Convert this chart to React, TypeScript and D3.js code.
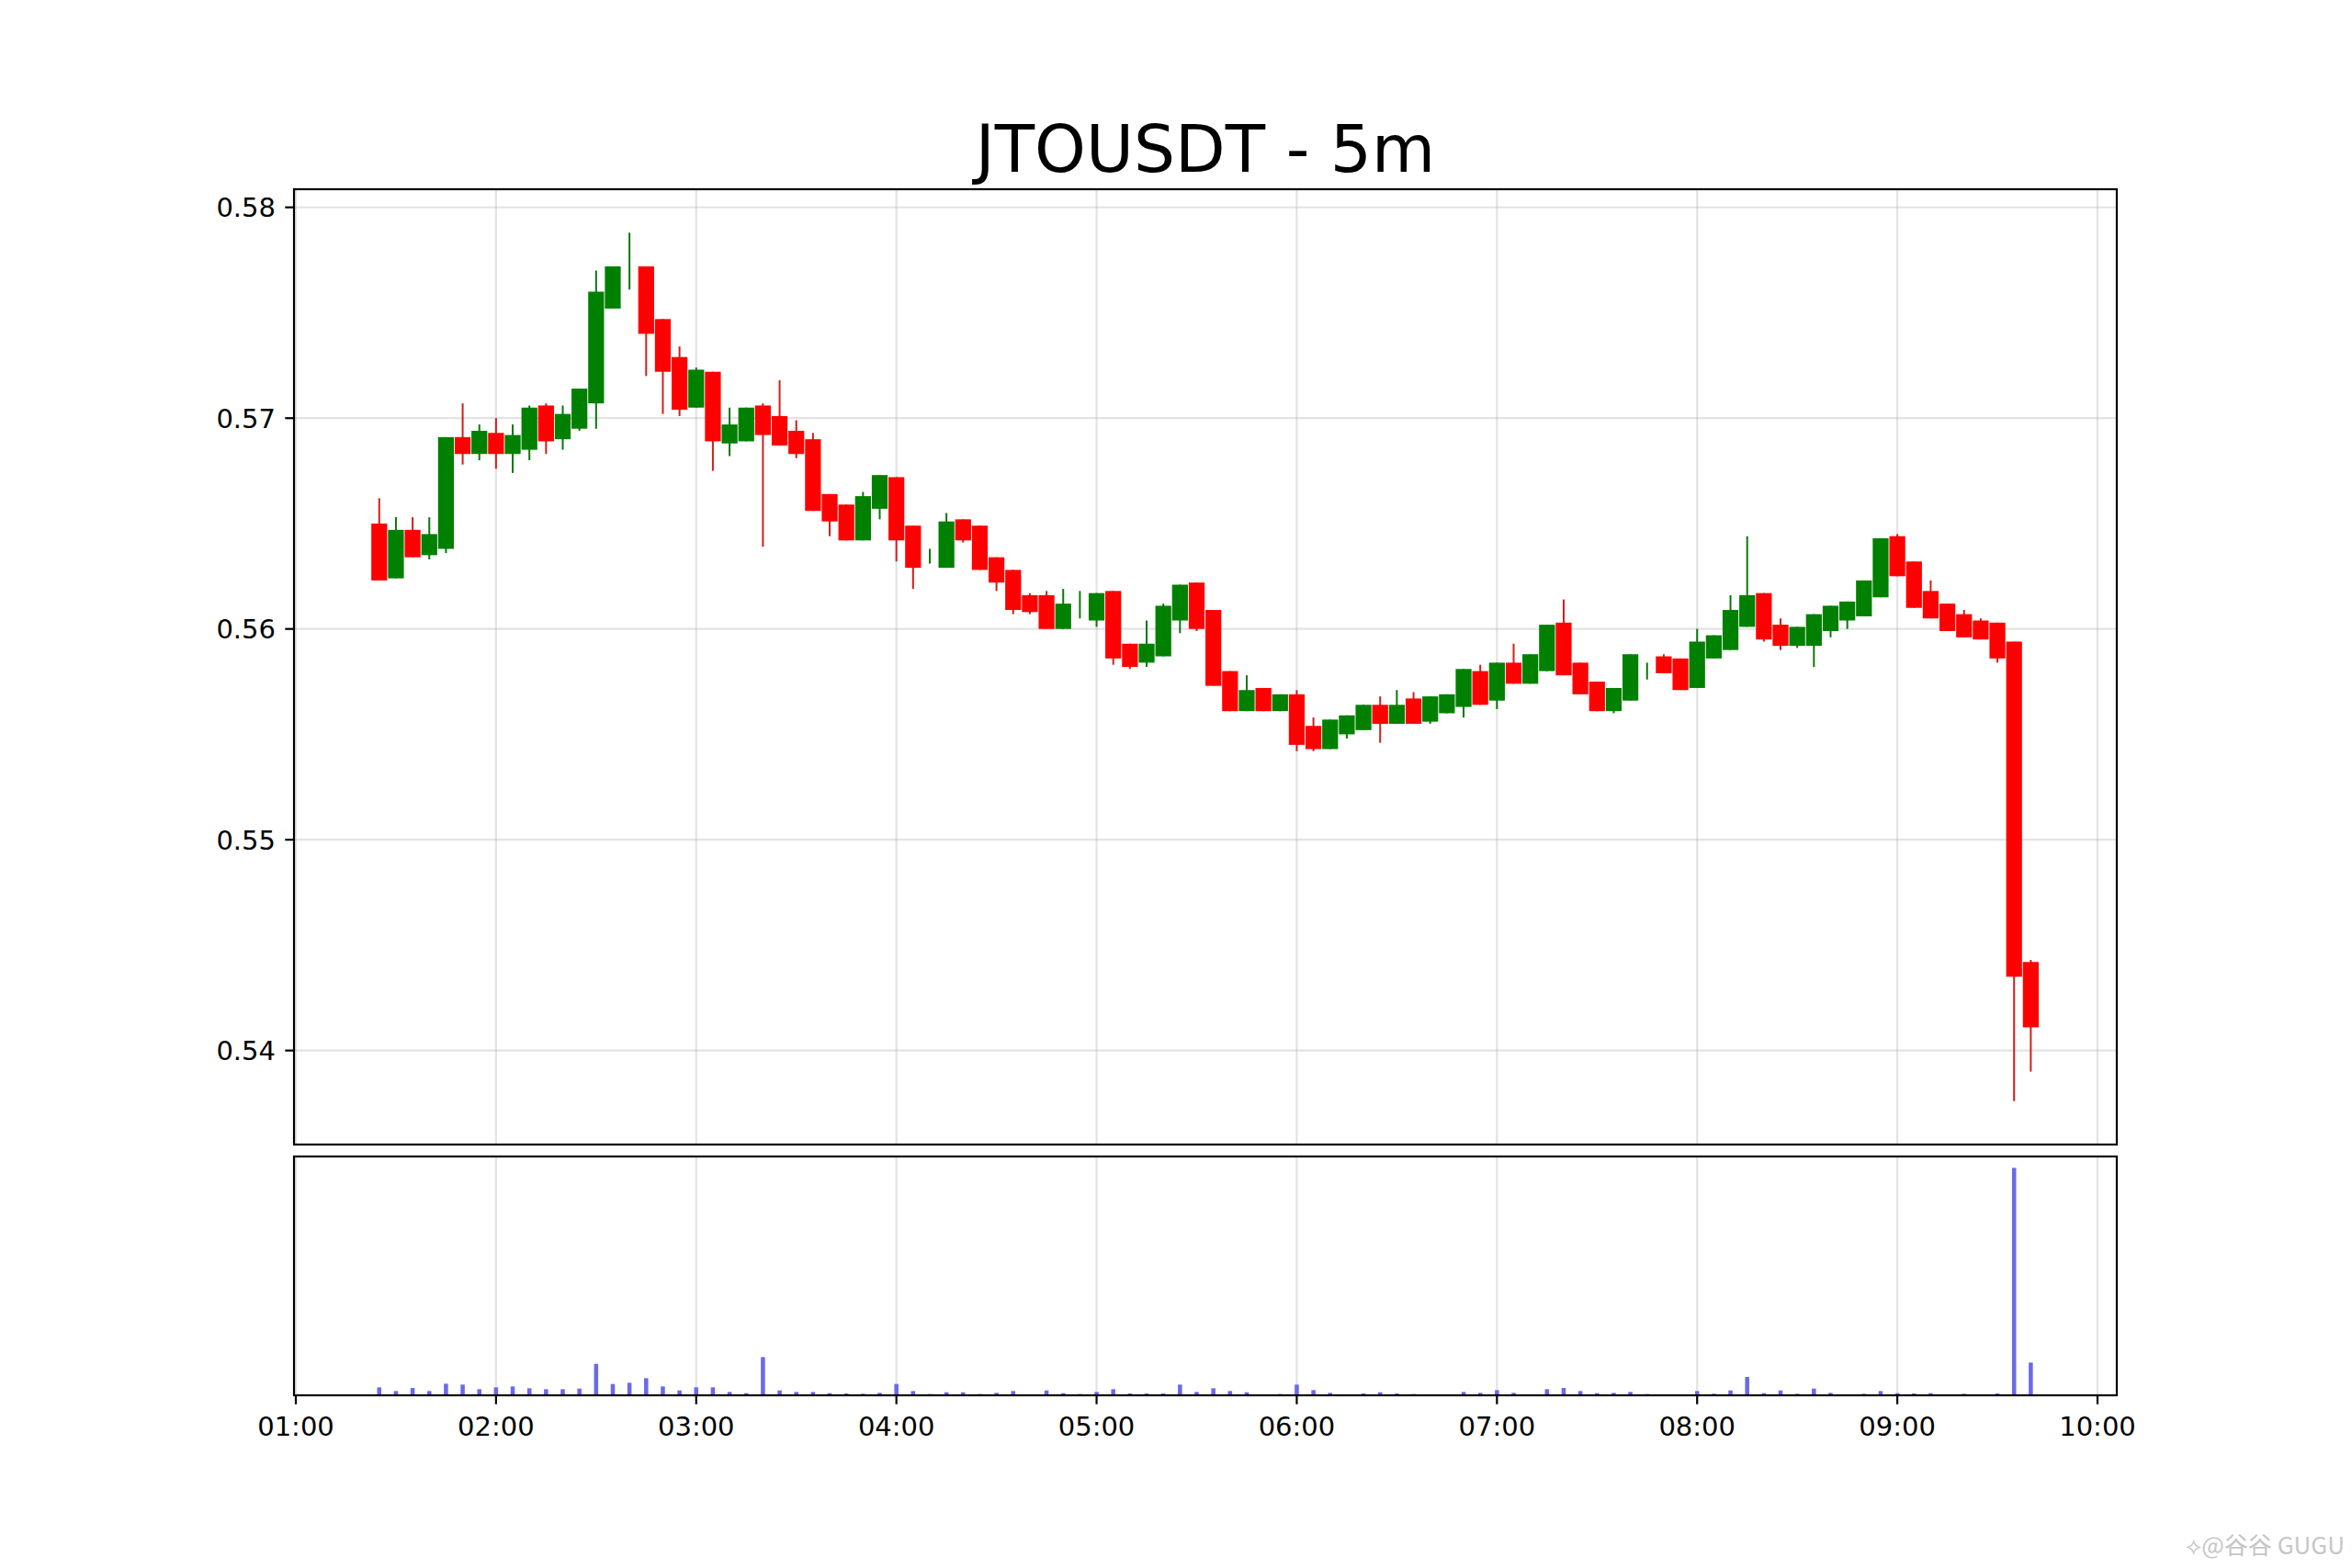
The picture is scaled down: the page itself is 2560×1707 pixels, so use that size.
import React from "react";
import * as d3 from "d3";

// --- 5m candles, 01:25 .. 09:40
const opens = [
  0.565, 0.5624, 0.5647, 0.5635, 0.5638, 0.5691, 0.5683, 0.5693, 0.5683, 0.5685,
  0.5706, 0.569, 0.5695, 0.5707, 0.5752, 0.5768, 0.5772, 0.5747, 0.5729, 0.5705,
  0.5722, 0.5688, 0.5689, 0.5706, 0.5701, 0.5694, 0.569, 0.5664, 0.5659, 0.5642,
  0.5657, 0.5672, 0.5649, 0.5634, 0.5629, 0.5652, 0.5649, 0.5634, 0.5628, 0.5616,
  0.5616, 0.56, 0.5612, 0.5604, 0.5618, 0.5593, 0.5584, 0.5587, 0.5604, 0.5622,
  0.5609, 0.558, 0.5561, 0.5572, 0.5561, 0.5569, 0.5554, 0.5543, 0.555, 0.5552,
  0.5564, 0.5555, 0.5567, 0.5556, 0.556, 0.5563, 0.558, 0.5566, 0.5584, 0.5574,
  0.558, 0.5603, 0.5584, 0.5575, 0.5561, 0.5566, 0.558, 0.5587, 0.5586, 0.5572,
  0.5586, 0.559, 0.5601, 0.5617, 0.5602, 0.5592, 0.5592, 0.5599, 0.5604, 0.5606,
  0.5615, 0.5644, 0.5632, 0.5618, 0.5612, 0.5607, 0.5604, 0.5603, 0.5594, 0.5442,
];
const highs = [
  0.5662, 0.5653, 0.5653, 0.5653, 0.5691, 0.5707, 0.5697, 0.57, 0.5697, 0.5706,
  0.5707, 0.5706, 0.5714, 0.577, 0.5772, 0.5788, 0.5772, 0.5747, 0.5734, 0.5724,
  0.5722, 0.5705, 0.5705, 0.5707, 0.5718, 0.5699, 0.5693, 0.5664, 0.5659, 0.5665,
  0.5673, 0.5672, 0.5649, 0.5638, 0.5655, 0.5652, 0.5649, 0.5634, 0.5628, 0.5617,
  0.5618, 0.5619, 0.5618, 0.5617, 0.5618, 0.5593, 0.5604, 0.5612, 0.5621, 0.5622,
  0.5609, 0.558, 0.5578, 0.5572, 0.5569, 0.5571, 0.5558, 0.5557, 0.5559, 0.5564,
  0.5568, 0.5571, 0.557, 0.5568, 0.5569, 0.5581, 0.5583, 0.5584, 0.5593, 0.5588,
  0.5602, 0.5614, 0.5584, 0.5575, 0.5572, 0.5588, 0.5584, 0.5588, 0.5586, 0.56,
  0.5597, 0.5616, 0.5644, 0.5617, 0.5605, 0.5601, 0.5607, 0.5611, 0.5613, 0.5623,
  0.5643, 0.5645, 0.5632, 0.5623, 0.5612, 0.5609, 0.5605, 0.5603, 0.5594, 0.5443,
];
const lows = [
  0.5623, 0.5624, 0.5634, 0.5633, 0.5636, 0.5678, 0.568, 0.5676, 0.5674, 0.568,
  0.5683, 0.5685, 0.5694, 0.5695, 0.5752, 0.5761, 0.572, 0.5702, 0.5701, 0.5705,
  0.5675, 0.5682, 0.5689, 0.5639, 0.5687, 0.5681, 0.5656, 0.5644, 0.5642, 0.5642,
  0.5652, 0.5632, 0.5619, 0.5631, 0.5629, 0.5641, 0.5628, 0.5618, 0.5607, 0.5607,
  0.56, 0.56, 0.5605, 0.5601, 0.5583, 0.5581, 0.5582, 0.5587, 0.5598, 0.5599,
  0.5573, 0.5561, 0.5561, 0.5561, 0.5561, 0.5542, 0.5542, 0.5543, 0.5548, 0.5552,
  0.5546, 0.5555, 0.5555, 0.5555, 0.556, 0.5558, 0.5564, 0.5562, 0.5574, 0.5574,
  0.558, 0.5578, 0.5569, 0.5561, 0.556, 0.5566, 0.5576, 0.5579, 0.5571, 0.5572,
  0.5586, 0.559, 0.5601, 0.5594, 0.559, 0.5591, 0.5582, 0.5596, 0.56, 0.5606,
  0.5615, 0.5625, 0.561, 0.5605, 0.5599, 0.5596, 0.5595, 0.5584, 0.5376, 0.539,
];
const closes = [
  0.5623, 0.5647, 0.5634, 0.5645, 0.5691, 0.5683, 0.5694, 0.5683, 0.5692, 0.5705,
  0.5689, 0.5702, 0.5714, 0.576, 0.5772, 0.5768, 0.574, 0.5722, 0.5704, 0.5723,
  0.5689, 0.5697, 0.5705, 0.5692, 0.5687, 0.5683, 0.5656, 0.5651, 0.5642, 0.5663,
  0.5673, 0.5642, 0.5629, 0.5634, 0.5651, 0.5642, 0.5628, 0.5622, 0.5609, 0.5608,
  0.56, 0.5612, 0.5612, 0.5617, 0.5586, 0.5582, 0.5593, 0.5611, 0.5621, 0.56,
  0.5573, 0.5561, 0.5571, 0.5561, 0.5569, 0.5545, 0.5543, 0.5557, 0.5559, 0.5564,
  0.5555, 0.5564, 0.5555, 0.5568, 0.5569, 0.5581, 0.5564, 0.5584, 0.5574, 0.5588,
  0.5602, 0.5578, 0.5569, 0.5561, 0.5572, 0.5588, 0.558, 0.5579, 0.5571, 0.5594,
  0.5597, 0.5609, 0.5616, 0.5595, 0.5592, 0.5601, 0.5607, 0.5611, 0.5613, 0.5623,
  0.5643, 0.5625, 0.561, 0.5605, 0.5599, 0.5596, 0.5595, 0.5586, 0.5435, 0.5411,
];
const volumes = [
  26, 14, 24, 14, 38, 35, 20, 26, 29, 23,
  20, 20, 22, 103, 37, 41, 56, 29, 16, 26,
  26, 11, 7, 125, 16, 11, 11, 7, 6, 5,
  8, 37, 14, 4, 10, 10, 4, 8, 14, 2,
  16, 7, 4, 11, 20, 6, 6, 6, 35, 11,
  23, 14, 10, 2, 4, 35, 17, 8, 2, 6,
  10, 6, 4, 2, 2, 11, 8, 17, 8, 2,
  20, 24, 14, 7, 8, 11, 4, 1, 1, 14,
  5, 16, 60, 7, 16, 5, 22, 8, 2, 5,
  14, 7, 6, 7, 2, 5, 1, 6, 744, 107,
];
const yTicks = [0.54, 0.55, 0.56, 0.57, 0.58];
const title = "JTOUSDT - 5m";
const firstBar = new Date(2024, 0, 1, 1, 25);
const intervalMin = 5;

const W = 2560;
const H = 1707;
const FONT = "DejaVu Sans";

export default function App() {
  const main = { left: 320, right: 2304, top: 206, bottom: 1246 };
  const vol = { top: 1259, bottom: 1519 };

  const times = opens.map((_, i) => d3.timeMinute.offset(firstBar, i * intervalMin));

  const x = d3
    .scaleTime()
    .domain([new Date(2024, 0, 1, 0, 59, 27), new Date(2024, 0, 1, 10, 5, 47)])
    .range([main.left, main.right]);

  // matplotlib-like 5% autoscale margins
  const lo = d3.min(lows)!;
  const hi = d3.max(highs)!;
  const pad = (hi - lo) * 0.05;
  const y = d3.scaleLinear().domain([lo - pad, hi + pad]).range([main.bottom, main.top]);

  const yv = d3
    .scaleLinear()
    .domain([0, d3.max(volumes)! * 1.05])
    .range([vol.bottom, vol.top]);

  const step = x(d3.timeMinute.offset(firstBar, intervalMin)) - x(firstBar);
  const bodyW = step * 0.95;
  const volW = step * 0.25;

  const xTicks = x.ticks(d3.timeHour.every(1)!);
  const fmt = d3.timeFormat("%H:%M");

  const up = (i: number) => closes[i] >= opens[i];

  return (
    <svg
      width={W}
      height={H}
      viewBox={`0 0 ${W} ${H}`}
      style={{ position: "absolute", left: 0, top: 0, background: "#fff" }}
      fontFamily={FONT}
    >
      <rect x={0} y={0} width={W} height={H} fill="#fff" />

      {/* title */}
      <text x={(main.left + main.right) / 2} y={187} textAnchor="middle" fontSize={71} fill="#000">
        {title}
      </text>

      {/* grid */}
      <g stroke="#b0b0b0" strokeOpacity={0.35} strokeWidth={2.2}>
        {yTicks.map((t) => (
          <line key={"gy" + t} x1={main.left} x2={main.right} y1={y(t)} y2={y(t)} />
        ))}
        {xTicks.map((t) => (
          <g key={"gx" + t.getTime()}>
            <line x1={x(t)} x2={x(t)} y1={main.top} y2={main.bottom} />
            <line x1={x(t)} x2={x(t)} y1={vol.top} y2={vol.bottom} />
          </g>
        ))}
      </g>

      {/* wicks */}
      <g strokeWidth={2}>
        {times.map((t, i) => (
          <line
            key={"w" + i}
            x1={x(t)}
            x2={x(t)}
            y1={y(highs[i])}
            y2={y(lows[i])}
            stroke={up(i) ? "#0b760b" : "#d41c1c"}
          />
        ))}
      </g>

      {/* bodies */}
      <g>
        {times.map((t, i) => {
          const top = y(Math.max(opens[i], closes[i]));
          const bot = y(Math.min(opens[i], closes[i]));
          return (
            <rect
              key={"b" + i}
              x={x(t) - bodyW / 2}
              y={top}
              width={bodyW}
              height={Math.max(0, bot - top)}
              fill={up(i) ? "#008000" : "#ff0000"}
            />
          );
        })}
      </g>

      {/* volume */}
      <g fill="#6a6ae8">
        {times.map((t, i) => (
          <rect
            key={"v" + i}
            x={x(t) - volW / 2}
            y={yv(volumes[i])}
            width={volW}
            height={vol.bottom - yv(volumes[i])}
          />
        ))}
      </g>

      {/* spines */}
      <g fill="none" stroke="#000" strokeWidth={2.2}>
        <rect x={main.left} y={main.top} width={main.right - main.left} height={main.bottom - main.top} />
        <rect x={main.left} y={vol.top} width={main.right - main.left} height={vol.bottom - vol.top} />
      </g>

      {/* y axis */}
      <g fontSize={29} fill="#000">
        {yTicks.map((t) => (
          <g key={"yt" + t}>
            <line x1={main.left - 9.7} x2={main.left} y1={y(t)} y2={y(t)} stroke="#000" strokeWidth={2.2} />
            <text x={main.left - 20} y={y(t) + 10.5} textAnchor="end">
              {d3.format(".2f")(t)}
            </text>
          </g>
        ))}
      </g>

      {/* x axis */}
      <g fontSize={29} fill="#000">
        {xTicks.map((t) => (
          <g key={"xt" + t.getTime()}>
            <line x1={x(t)} x2={x(t)} y1={vol.bottom} y2={vol.bottom + 9.7} stroke="#000" strokeWidth={2.2} />
            <text x={x(t)} y={1563} textAnchor="middle">
              {fmt(t)}
            </text>
          </g>
        ))}
      </g>

      {/* watermark */}
      <text
        x={2552}
        y={1692}
        textAnchor="end"
        fontSize={26}
        fill="#c6c6c6"
        fontFamily="Noto Sans CJK SC"
      >
        ⟡@谷谷 GUGU
      </text>
    </svg>
  );
}
